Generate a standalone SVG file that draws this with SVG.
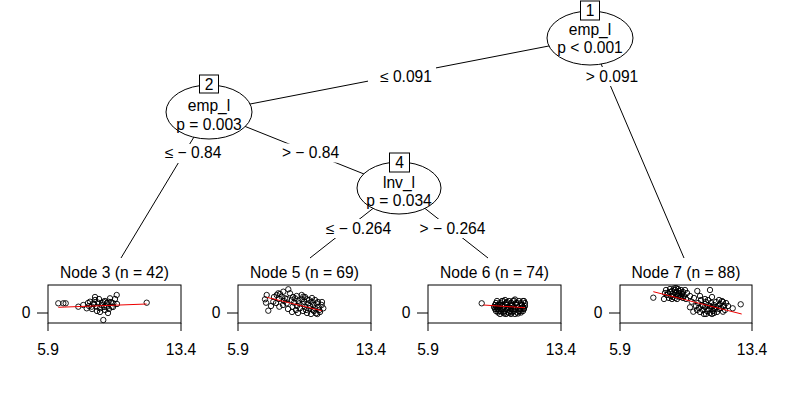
<svg xmlns="http://www.w3.org/2000/svg" width="800" height="400" viewBox="0 0 800 400">
<style>
text{font-family:"Liberation Sans",Arial,sans-serif;font-size:15.6px;fill:#000}
.m{text-anchor:middle}
.e{stroke:#000;stroke-width:1;fill:none}
.lb{fill:#fff;stroke:none}
.ell{fill:#fff;stroke:#000;stroke-width:1}
.nb{fill:#fff;stroke:#000;stroke-width:1}
.box{fill:none;stroke:#000;stroke-width:1}
.tk{stroke:#000;stroke-width:1}
.fit{stroke:#e00;stroke-width:1;fill:none}
circle{fill:none;stroke:#000;stroke-width:0.9}
</style>
<rect width="800" height="400" fill="#fff"/>
<g id="connectors">
<line class="e" x1="590" y1="38" x2="209" y2="112"/>
<line class="e" x1="590" y1="38" x2="684" y2="258"/>
<line class="e" x1="209" y1="112" x2="121" y2="258"/>
<line class="e" x1="209" y1="112" x2="399" y2="188"/>
<line class="e" x1="399" y1="188" x2="310" y2="258"/>
<line class="e" x1="399" y1="188" x2="488" y2="258"/>
<rect class="lb" x="368" y="67" width="68" height="19"/>
<text class="m" x="406" y="82">≤ 0.091</text>
<rect class="lb" x="582" y="67" width="60" height="19"/>
<text class="m" x="612" y="82">&gt; 0.091</text>
<rect class="lb" x="160" y="144" width="66" height="19"/>
<text class="m" x="193" y="158">≤ − 0.84</text>
<rect class="lb" x="280" y="143.5" width="62" height="19"/>
<text class="m" x="310.5" y="158">&gt; − 0.84</text>
<rect class="lb" x="320" y="219" width="78" height="19"/>
<text class="m" x="358.5" y="234">≤ − 0.264</text>
<rect class="lb" x="415" y="219" width="76" height="19"/>
<text class="m" x="452.5" y="234">&gt; − 0.264</text>
</g>
<g id="node1">
<ellipse class="ell" cx="590" cy="38" rx="43" ry="27"/>
<rect class="nb" x="580.5" y="1" width="19" height="19"/>
<text class="m" x="590" y="16">1</text>
<text class="m" x="590" y="35">emp_l</text>
<text class="m" x="590" y="53">p &lt; 0.001</text>
</g>
<g id="node2">
<ellipse class="ell" cx="209" cy="112" rx="43" ry="27"/>
<rect class="nb" x="199.5" y="75" width="19" height="18"/>
<text class="m" x="209" y="89.5">2</text>
<text class="m" x="209" y="111">emp_l</text>
<text class="m" x="209" y="130">p = 0.003</text>
</g>
<g id="node4">
<ellipse class="ell" cx="399" cy="188" rx="42" ry="26"/>
<rect class="nb" x="389.5" y="153" width="20" height="19"/>
<text class="m" x="399.5" y="168">4</text>
<text class="m" x="399" y="188">lnv_l</text>
<text class="m" x="399" y="206">p = 0.034</text>
</g>
<g id="node3">
<text class="m" x="114.5" y="278">Node 3 (n = 42)</text>
<rect class="box" x="48" y="285" width="133" height="38"/>
<line class="tk" x1="37" y1="313" x2="48" y2="313"/>
<text class="m" x="26" y="318">0</text>
<line class="tk" x1="48" y1="323" x2="48" y2="331"/>
<line class="tk" x1="181" y1="323" x2="181" y2="331"/>
<text class="m" x="48" y="355">5.9</text>
<text class="m" x="181" y="355">13.4</text>
<g>
<circle cx="58.3" cy="303.3" r="2.7"/><circle cx="63.3" cy="303.3" r="2.7"/><circle cx="65.7" cy="303.3" r="2.7"/><circle cx="78.3" cy="306.7" r="2.7"/><circle cx="83.3" cy="305" r="2.7"/><circle cx="86.7" cy="308.3" r="2.7"/><circle cx="90" cy="301.7" r="2.7"/><circle cx="91.7" cy="306.7" r="2.7"/><circle cx="93.3" cy="303.3" r="2.7"/><circle cx="95" cy="300" r="2.7"/><circle cx="96.7" cy="306.7" r="2.7"/><circle cx="98.3" cy="302.7" r="2.7"/><circle cx="100" cy="308.3" r="2.7"/><circle cx="101.7" cy="305" r="2.7"/><circle cx="103.3" cy="301.7" r="2.7"/><circle cx="103.3" cy="320" r="2.7"/><circle cx="105" cy="310" r="2.7"/><circle cx="106.7" cy="306.7" r="2.7"/><circle cx="108.3" cy="301.7" r="2.7"/><circle cx="110" cy="298.3" r="2.7"/><circle cx="111.7" cy="306.7" r="2.7"/><circle cx="113.3" cy="303.3" r="2.7"/><circle cx="116.7" cy="295" r="2.7"/><circle cx="146.7" cy="302.7" r="2.7"/>
<circle cx="88" cy="303" r="2.7"/><circle cx="92" cy="309" r="2.7"/><circle cx="94" cy="304" r="2.7"/><circle cx="97" cy="311" r="2.7"/><circle cx="99" cy="299" r="2.7"/><circle cx="102" cy="303" r="2.7"/><circle cx="104" cy="307" r="2.7"/><circle cx="107" cy="303" r="2.7"/><circle cx="109" cy="309" r="2.7"/><circle cx="111" cy="302" r="2.7"/><circle cx="113" cy="307" r="2.7"/><circle cx="115" cy="299" r="2.7"/><circle cx="117" cy="304" r="2.7"/><circle cx="95" cy="297" r="2.7"/><circle cx="100" cy="312" r="2.7"/><circle cx="105" cy="301" r="2.7"/><circle cx="89" cy="306" r="2.7"/><circle cx="108" cy="313" r="2.7"/>
</g>
<line class="fit" x1="58.3" y1="307.3" x2="146.7" y2="304"/>
</g>
<g id="node5">
<text class="m" x="304.5" y="278">Node 5 (n = 69)</text>
<rect class="box" x="238" y="285" width="133" height="38"/>
<line class="tk" x1="227" y1="313" x2="238" y2="313"/>
<text class="m" x="216" y="318">0</text>
<line class="tk" x1="238" y1="323" x2="238" y2="331"/>
<line class="tk" x1="371" y1="323" x2="371" y2="331"/>
<text class="m" x="238" y="355">5.9</text>
<text class="m" x="371" y="355">13.4</text>
<g>
<circle cx="266.7" cy="295" r="2.7"/><circle cx="265" cy="299.3" r="2.7"/><circle cx="266" cy="302.7" r="2.7"/><circle cx="268.3" cy="310.7" r="2.7"/><circle cx="273.3" cy="301.7" r="2.7"/><circle cx="276.7" cy="295" r="2.7"/><circle cx="278.3" cy="293.3" r="2.7"/><circle cx="280" cy="294" r="2.7"/><circle cx="281.7" cy="296.7" r="2.7"/><circle cx="279.3" cy="306.7" r="2.7"/><circle cx="283.3" cy="291.7" r="2.7"/><circle cx="285" cy="298.3" r="2.7"/><circle cx="286.7" cy="303.3" r="2.7"/><circle cx="288.3" cy="289.3" r="2.7"/><circle cx="290" cy="293.3" r="2.7"/><circle cx="291.7" cy="300" r="2.7"/><circle cx="292.7" cy="306.7" r="2.7"/><circle cx="294" cy="302.7" r="2.7"/><circle cx="295" cy="298.3" r="2.7"/><circle cx="296.7" cy="296" r="2.7"/><circle cx="298.3" cy="300.7" r="2.7"/><circle cx="299.3" cy="303.3" r="2.7"/><circle cx="300" cy="308.3" r="2.7"/><circle cx="301.7" cy="299.3" r="2.7"/><circle cx="302.7" cy="304" r="2.7"/><circle cx="304" cy="301.7" r="2.7"/><circle cx="305" cy="306.7" r="2.7"/><circle cx="306" cy="310" r="2.7"/><circle cx="306.7" cy="299.3" r="2.7"/><circle cx="308.3" cy="303.3" r="2.7"/><circle cx="309.3" cy="308.3" r="2.7"/><circle cx="310" cy="306" r="2.7"/><circle cx="311.7" cy="301.7" r="2.7"/><circle cx="312.7" cy="310" r="2.7"/><circle cx="313.3" cy="305" r="2.7"/><circle cx="315" cy="308.3" r="2.7"/><circle cx="316" cy="313.3" r="2.7"/><circle cx="316.7" cy="303.3" r="2.7"/><circle cx="318.3" cy="306.7" r="2.7"/><circle cx="319.3" cy="310" r="2.7"/><circle cx="321.7" cy="305" r="2.7"/><circle cx="323.3" cy="308.3" r="2.7"/><circle cx="317.3" cy="314" r="2.7"/><circle cx="301.7" cy="295" r="2.7"/><circle cx="303.3" cy="296.7" r="2.7"/>
<circle cx="276" cy="303" r="2.7"/><circle cx="283" cy="305" r="2.7"/><circle cx="288" cy="309" r="2.7"/><circle cx="292" cy="312" r="2.7"/><circle cx="296" cy="310" r="2.7"/><circle cx="298" cy="313" r="2.7"/><circle cx="303" cy="311" r="2.7"/><circle cx="307" cy="313" r="2.7"/><circle cx="311" cy="314" r="2.7"/><circle cx="314" cy="311" r="2.7"/><circle cx="318" cy="302" r="2.7"/><circle cx="320" cy="312" r="2.7"/><circle cx="309" cy="300" r="2.7"/><circle cx="305" cy="297" r="2.7"/><circle cx="297" cy="306" r="2.7"/><circle cx="293" cy="297" r="2.7"/><circle cx="287" cy="299" r="2.7"/><circle cx="284" cy="301" r="2.7"/><circle cx="279" cy="299" r="2.7"/><circle cx="274" cy="297" r="2.7"/><circle cx="271" cy="306" r="2.7"/><circle cx="312" cy="298" r="2.7"/><circle cx="322" cy="302" r="2.7"/><circle cx="315" cy="300" r="2.7"/>
</g>
<line class="fit" x1="266.7" y1="297.3" x2="321.7" y2="310.7"/>
</g>
<g id="node6">
<text class="m" x="494.5" y="278">Node 6 (n = 74)</text>
<rect class="box" x="428" y="285" width="133" height="38"/>
<line class="tk" x1="417" y1="313" x2="428" y2="313"/>
<text class="m" x="406" y="318">0</text>
<line class="tk" x1="428" y1="323" x2="428" y2="331"/>
<line class="tk" x1="561" y1="323" x2="561" y2="331"/>
<text class="m" x="428" y="355">5.9</text>
<text class="m" x="561" y="355">13.4</text>
<g>
<circle cx="481.7" cy="303.3" r="2.7"/>
<circle cx="497" cy="301" r="2.7"/><circle cx="503" cy="301" r="2.7"/><circle cx="509" cy="301" r="2.7"/><circle cx="513" cy="301" r="2.7"/><circle cx="519" cy="301" r="2.7"/><circle cx="523" cy="301" r="2.7"/>
<circle cx="496" cy="303" r="2.7"/><circle cx="500" cy="303" r="2.7"/><circle cx="506" cy="303" r="2.7"/><circle cx="511" cy="303" r="2.7"/><circle cx="516" cy="303" r="2.7"/><circle cx="521" cy="303" r="2.7"/><circle cx="525" cy="303" r="2.7"/>
<circle cx="495" cy="305" r="2.7"/><circle cx="498" cy="305" r="2.7"/><circle cx="502" cy="305" r="2.7"/><circle cx="507" cy="305" r="2.7"/><circle cx="512" cy="305" r="2.7"/><circle cx="517" cy="305" r="2.7"/><circle cx="522" cy="305" r="2.7"/><circle cx="525" cy="306" r="2.7"/>
<circle cx="496" cy="307" r="2.7"/><circle cx="500" cy="307" r="2.7"/><circle cx="504" cy="307" r="2.7"/><circle cx="509" cy="307" r="2.7"/><circle cx="514" cy="307" r="2.7"/><circle cx="518" cy="307" r="2.7"/><circle cx="523" cy="307" r="2.7"/>
<circle cx="495" cy="309" r="2.7"/><circle cx="498" cy="309" r="2.7"/><circle cx="503" cy="309" r="2.7"/><circle cx="507" cy="309" r="2.7"/><circle cx="511" cy="309" r="2.7"/><circle cx="515" cy="309" r="2.7"/><circle cx="520" cy="309" r="2.7"/><circle cx="524" cy="309" r="2.7"/>
<circle cx="496" cy="311" r="2.7"/><circle cx="501" cy="311" r="2.7"/><circle cx="505" cy="311" r="2.7"/><circle cx="510" cy="311" r="2.7"/><circle cx="514" cy="311" r="2.7"/><circle cx="519" cy="311" r="2.7"/><circle cx="523" cy="311" r="2.7"/>
<circle cx="498" cy="312.5" r="2.7"/><circle cx="503" cy="312.5" r="2.7"/><circle cx="508" cy="312.5" r="2.7"/><circle cx="512" cy="312.5" r="2.7"/><circle cx="517" cy="312.5" r="2.7"/><circle cx="521" cy="312.5" r="2.7"/>
<circle cx="500" cy="314" r="2.7"/><circle cx="506" cy="314" r="2.7"/><circle cx="511" cy="314" r="2.7"/><circle cx="515" cy="314" r="2.7"/>
<circle cx="505" cy="300" r="2.7"/><circle cx="515" cy="299.5" r="2.7"/><circle cx="499" cy="311" r="2.7"/><circle cx="509" cy="313" r="2.7"/><circle cx="520" cy="311" r="2.7"/><circle cx="524" cy="308" r="2.7"/><circle cx="494" cy="307" r="2.7"/><circle cx="502" cy="301" r="2.7"/><circle cx="511" cy="306" r="2.7"/><circle cx="517" cy="303" r="2.7"/><circle cx="507" cy="302" r="2.7"/><circle cx="513" cy="309" r="2.7"/><circle cx="504" cy="313.5" r="2.7"/><circle cx="522" cy="305" r="2.7"/><circle cx="497" cy="309" r="2.7"/><circle cx="518" cy="313.5" r="2.7"/><circle cx="524" cy="301" r="2.7"/><circle cx="500" cy="305" r="2.7"/><circle cx="508" cy="308" r="2.7"/><circle cx="514" cy="300.5" r="2.7"/>
</g>
<line class="fit" x1="483.3" y1="305" x2="525" y2="307.7"/>
</g>
<g id="node7">
<text class="m" x="686" y="278">Node 7 (n = 88)</text>
<rect class="box" x="620" y="285" width="132" height="38"/>
<line class="tk" x1="609" y1="313" x2="620" y2="313"/>
<text class="m" x="598" y="318">0</text>
<line class="tk" x1="620" y1="323" x2="620" y2="331"/>
<line class="tk" x1="752" y1="323" x2="752" y2="331"/>
<text class="m" x="620" y="355">5.9</text>
<text class="m" x="752" y="355">13.4</text>
<g>
<circle cx="653.3" cy="297.7" r="2.7"/><circle cx="664" cy="299" r="2.7"/>
<circle cx="666" cy="290" r="2.7"/><circle cx="668" cy="293" r="2.7"/><circle cx="670" cy="289" r="2.7"/><circle cx="671" cy="296" r="2.7"/><circle cx="672" cy="291" r="2.7"/><circle cx="673" cy="294" r="2.7"/><circle cx="674" cy="288.5" r="2.7"/><circle cx="675" cy="298" r="2.7"/><circle cx="676" cy="292" r="2.7"/><circle cx="677" cy="295" r="2.7"/><circle cx="678" cy="289" r="2.7"/><circle cx="679" cy="293" r="2.7"/><circle cx="680" cy="297" r="2.7"/><circle cx="681" cy="290" r="2.7"/><circle cx="682" cy="294" r="2.7"/><circle cx="683" cy="292" r="2.7"/><circle cx="684" cy="296" r="2.7"/><circle cx="685" cy="290" r="2.7"/><circle cx="686" cy="299" r="2.7"/><circle cx="669" cy="298" r="2.7"/><circle cx="667" cy="295" r="2.7"/><circle cx="672" cy="299" r="2.7"/><circle cx="675" cy="290" r="2.7"/><circle cx="677" cy="299" r="2.7"/><circle cx="679" cy="291" r="2.7"/><circle cx="681" cy="296" r="2.7"/><circle cx="683" cy="298" r="2.7"/><circle cx="673" cy="297" r="2.7"/><circle cx="670" cy="292" r="2.7"/><circle cx="678" cy="296" r="2.7"/><circle cx="687" cy="293" r="2.7"/><circle cx="676" cy="288" r="2.7"/><circle cx="665" cy="293" r="2.7"/>
<circle cx="690" cy="296" r="2.7"/><circle cx="697.3" cy="291" r="2.7"/><circle cx="710" cy="290" r="2.7"/><circle cx="700" cy="296" r="2.7"/><circle cx="691.7" cy="301.7" r="2.7"/><circle cx="690" cy="307.3" r="2.7"/><circle cx="693.3" cy="311.7" r="2.7"/><circle cx="732.7" cy="308.3" r="2.7"/><circle cx="740.7" cy="304.3" r="2.7"/><circle cx="723" cy="311.7" r="2.7"/><circle cx="705" cy="299" r="2.7"/><circle cx="694" cy="298" r="2.7"/>
<circle cx="698" cy="303" r="2.7"/><circle cx="699" cy="308" r="2.7"/><circle cx="700" cy="312" r="2.7"/><circle cx="702" cy="305" r="2.7"/><circle cx="703" cy="310" r="2.7"/><circle cx="704" cy="314" r="2.7"/><circle cx="705" cy="307" r="2.7"/><circle cx="706" cy="302" r="2.7"/><circle cx="707" cy="311" r="2.7"/><circle cx="708" cy="305" r="2.7"/><circle cx="709" cy="309" r="2.7"/><circle cx="710" cy="313" r="2.7"/><circle cx="711" cy="303" r="2.7"/><circle cx="712" cy="307" r="2.7"/><circle cx="713" cy="311" r="2.7"/><circle cx="714" cy="305" r="2.7"/><circle cx="715" cy="309" r="2.7"/><circle cx="716" cy="302" r="2.7"/><circle cx="717" cy="312" r="2.7"/><circle cx="718" cy="306" r="2.7"/><circle cx="719" cy="309" r="2.7"/><circle cx="720" cy="304" r="2.7"/><circle cx="721" cy="308" r="2.7"/><circle cx="722" cy="301" r="2.7"/><circle cx="724" cy="306" r="2.7"/><circle cx="725" cy="310" r="2.7"/><circle cx="726" cy="303" r="2.7"/><circle cx="701" cy="300" r="2.7"/><circle cx="706" cy="314" r="2.7"/><circle cx="712" cy="314" r="2.7"/><circle cx="708" cy="300" r="2.7"/><circle cx="714" cy="313" r="2.7"/><circle cx="696" cy="306" r="2.7"/><circle cx="697" cy="310" r="2.7"/><circle cx="719" cy="300" r="2.7"/><circle cx="723" cy="302" r="2.7"/><circle cx="716" cy="307" r="2.7"/><circle cx="710" cy="306" r="2.7"/><circle cx="703" cy="306" r="2.7"/><circle cx="728" cy="306" r="2.7"/><circle cx="712" cy="297" r="2.7"/>
</g>
<line class="fit" x1="653.3" y1="291.7" x2="741.7" y2="314"/>
</g>
</svg>
